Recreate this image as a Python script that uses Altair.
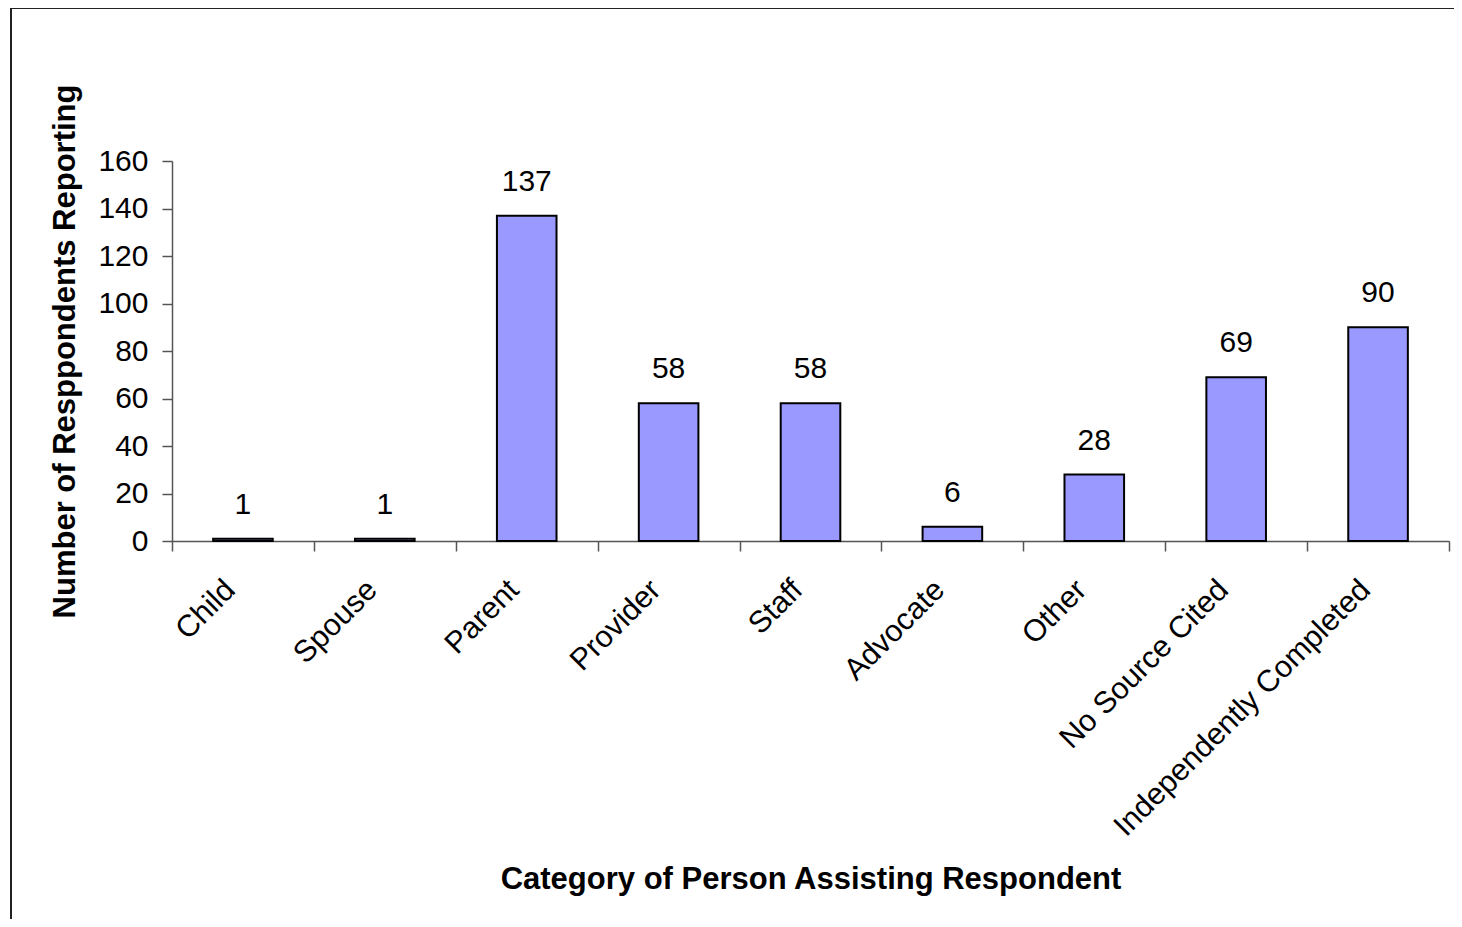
import altair as alt
import pandas as pd

categories = ["Child", "Spouse", "Parent", "Provider", "Staff", "Advocate",
              "Other", "No Source Cited", "Independently Completed"]
counts = [1, 1, 137, 58, 58, 6, 28, 69, 90]
y_ticks = [0, 20, 40, 60, 80, 100, 120, 140, 160]

df = pd.DataFrame({"category": categories, "count": counts})

FONT = "Liberation Sans"
W, H = 1277, 380
AXIS_COLOR = "#555555"

x_enc = alt.X(
    "category:N", sort=categories,
    scale=alt.Scale(paddingInner=0, paddingOuter=0),
    axis=alt.Axis(
        title="Category of Person Assisting Respondent",
        labelAngle=-45, labelAlign="right", labelBaseline="middle",
        labelPadding=34, labelLimit=1000, labelOverlap=False, labelOffset=-13,
        labelFontSize=30.5,
        tickBand="extent", tickSize=10,
        titleX=W / 2, titleY=347, titleBaseline="alphabetic", titleLimit=2000,
    ),
)
y_enc = alt.Y(
    "count:Q",
    scale=alt.Scale(domain=[0, 160], nice=False),
    axis=alt.Axis(
        values=y_ticks, title="Number of Resppondents Reporting", grid=False,
        tickSize=10, labelPadding=14, labelBaseline="middle",
        titleX=-98, titleY=H / 2, titleBaseline="alphabetic", titleLimit=2000,
    ),
)

border = alt.Chart(pd.DataFrame({"a": [0]})).mark_rect(
    fillOpacity=0, stroke="#222222", strokeWidth=2
).encode(
    x=alt.value(-161), x2=alt.value(1300), y=alt.value(-153), y2=alt.value(800)
)

bars = alt.Chart(df).mark_bar(
    fill="#9999FF", stroke="black", strokeWidth=2,
    width=alt.RelativeBandSize(0.42)
).encode(x=x_enc, y=y_enc)

labels = alt.Chart(df).mark_text(
    font=FONT, fontSize=30, baseline="alphabetic", dy=-25, color="black"
).encode(
    x=alt.X("category:N", sort=categories),
    y=alt.Y("count:Q"),
    text=alt.Text("count:Q"),
)

chart = alt.layer(border, bars, labels).properties(
    width=W, height=H,
    padding={"left": 164, "top": 153, "right": 5, "bottom": 378},
    autosize=alt.AutoSizeParams(type="none"),
    background="white",
).configure_view(strokeWidth=0).configure_axis(
    domainColor=AXIS_COLOR, tickColor=AXIS_COLOR, domainWidth=1.5, tickWidth=1.5,
    labelFont=FONT, labelFontSize=30, labelColor="black",
    titleFont=FONT, titleFontSize=31, titleFontWeight="bold", titleColor="black",
)

chart.save("out.html", embed_options={"renderer": "svg", "actions": False})
